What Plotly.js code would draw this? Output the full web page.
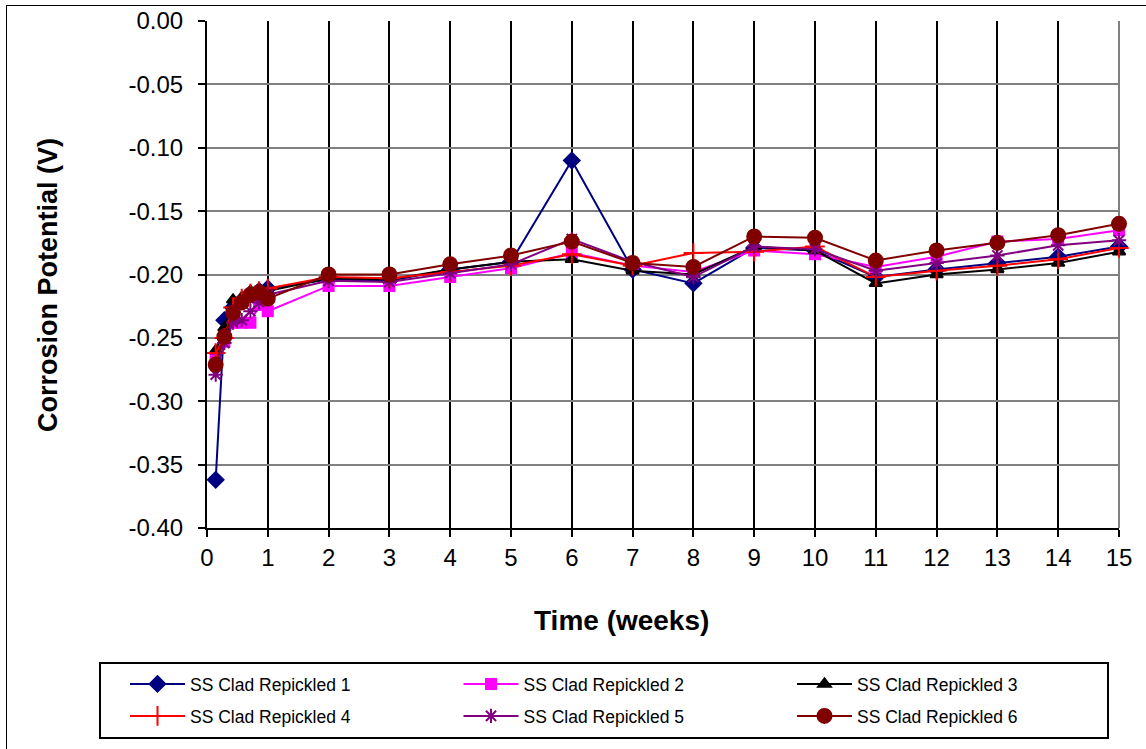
<!DOCTYPE html>
<html>
<head>
<meta charset="utf-8">
<script src="https://cdn.plot.ly/plotly-3.0.1.min.js"></script>
<style>
  html, body { margin: 0; padding: 0; background: #fff; }
  #wrap { position: relative; width: 1146px; height: 749px; overflow: hidden; }
  #chart { position: absolute; left: 0; top: 0; width: 1146px; height: 749px; }
  #frame { position: absolute; left: 6px; top: 5px; width: 1160px; height: 760px;
           border: 1px solid #000; pointer-events: none; }
</style>
</head>
<body>
<div id="wrap">
  <div id="chart"></div>
  <div id="frame"></div>
</div>
<script>
// Exposure time in weeks: daily readings in the first week, then weekly
const weeks = [1/7, 2/7, 3/7, 4/7, 5/7, 6/7, 1, 2, 3, 4, 5, 6, 7, 8, 9, 10, 11, 12, 13, 14, 15];

// Corrosion potential (V) for each repickled SS clad specimen
const repickled1 = [-0.362, -0.236, -0.226, -0.221, -0.216, -0.213, -0.211, -0.204, -0.205, -0.196, -0.190, -0.110, -0.196, -0.207, -0.179, -0.181, -0.202, -0.196, -0.191, -0.186, -0.178];
const repickled2 = [-0.266, -0.253, -0.238, -0.238, -0.238, -0.224, -0.229, -0.209, -0.209, -0.202, -0.195, -0.183, -0.193, -0.198, -0.181, -0.184, -0.194, -0.186, -0.174, -0.172, -0.165];
const repickled3 = [-0.260, -0.242, -0.220, -0.218, -0.213, -0.212, -0.213, -0.203, -0.204, -0.196, -0.190, -0.188, -0.197, -0.200, -0.178, -0.181, -0.207, -0.200, -0.196, -0.191, -0.182];
const repickled4 = [-0.262, -0.250, -0.226, -0.219, -0.215, -0.213, -0.211, -0.202, -0.203, -0.198, -0.193, -0.184, -0.193, -0.183, -0.182, -0.178, -0.202, -0.197, -0.193, -0.188, -0.179];
const repickled5 = [-0.279, -0.254, -0.238, -0.236, -0.229, -0.222, -0.216, -0.205, -0.206, -0.199, -0.192, -0.172, -0.190, -0.202, -0.178, -0.180, -0.197, -0.191, -0.185, -0.177, -0.173];
const repickled6 = [-0.271, -0.249, -0.230, -0.222, -0.216, -0.214, -0.219, -0.200, -0.200, -0.192, -0.185, -0.174, -0.191, -0.194, -0.170, -0.171, -0.189, -0.181, -0.175, -0.169, -0.160];

const seriesNames = ['SS Clad Repickled 1', 'SS Clad Repickled 2', 'SS Clad Repickled 3',
                     'SS Clad Repickled 4', 'SS Clad Repickled 5', 'SS Clad Repickled 6'];

const xTicks = [0, 1, 2, 3, 4, 5, 6, 7, 8, 9, 10, 11, 12, 13, 14, 15];
const yTicks = [0, -0.05, -0.10, -0.15, -0.20, -0.25, -0.30, -0.35, -0.40];

const styles = [
  { color: '#000080', symbol: 'diamond', size: 12 },
  { color: '#FF00FF', symbol: 'square', size: 10 },
  { color: '#000000', symbol: 'triangle-up', size: 11 },
  { color: '#FF0000', symbol: 'cross-thin-open', size: 14 },
  { color: '#800080', symbol: 'asterisk-open', size: 12 },
  { color: '#800000', symbol: 'circle', size: 14 }
];

const values = [repickled1, repickled2, repickled3, repickled4, repickled5, repickled6];

// one legend per entry so the 3 x 2 key grid sits at fixed spots
const legendIds = ['legend', 'legend2', 'legend3', 'legend4', 'legend5', 'legend6'];

const traces = values.map((v, i) => ({
  type: 'scatter',
  mode: 'lines+markers',
  name: seriesNames[i],
  legend: legendIds[i],
  x: weeks,
  y: v,
  line: { color: styles[i].color, width: 2 },
  marker: {
    symbol: styles[i].symbol,
    size: styles[i].size,
    color: styles[i].color,
    line: { color: styles[i].color, width: 2 }
  },
  cliponaxis: false
}));

const font = 'Arial, "Liberation Sans", sans-serif';

const W = 1146, H = 749;
const M = { l: 207, r: 27, t: 21, b: 221 };
const plotW = W - M.l - M.r, plotH = H - M.t - M.b;
// pixel position on the page -> paper fraction
const px = x => (x - M.l) / plotW;
const py = y => (H - M.b - y) / plotH;

// key grid: column left edges and row top edges, in page pixels
const keyCols = [125, 458.5, 792];
const keyRows = [666, 698];

function legendAt(i) {
  return {
    orientation: 'h',
    xref: 'container',
    yref: 'container',
    x: keyCols[i % 3] / W,
    y: 1 - keyRows[Math.floor(i / 3)] / H,
    xanchor: 'left',
    yanchor: 'top',
    borderwidth: 0,
    bgcolor: 'rgba(0,0,0,0)',
    font: { size: 17.5, family: font },
    itemwidth: 55,
    traceorder: 'normal'
  };
}

const layout = {
  width: W,
  height: H,
  margin: M,
  paper_bgcolor: '#ffffff',
  plot_bgcolor: '#ffffff',
  font: { family: font, color: '#000' },
  showlegend: true,
  xaxis: {
    range: [0, 15],
    tickvals: xTicks,
    ticktext: xTicks.map(String),
    ticks: 'outside',
    ticklen: 7,
    tickwidth: 2,
    tickcolor: '#000',
    showline: true,
    linecolor: '#000',
    linewidth: 2,
    showgrid: false,
    minor: {
      tickvals: xTicks.slice(1, -1),
      ticks: '',
      showgrid: true,
      gridcolor: '#000',
      gridwidth: 2
    },
    zeroline: false,
    tickfont: { size: 24, family: font }
  },
  yaxis: {
    range: [-0.40, 0],
    tickvals: yTicks,
    ticktext: yTicks.map(v => v.toFixed(2)),
    ticks: 'outside',
    ticklen: 7,
    tickwidth: 2,
    tickcolor: '#000',
    ticklabelstandoff: 10,
    showline: true,
    linecolor: '#000',
    linewidth: 2,
    showgrid: true,
    gridcolor: '#808080',
    gridwidth: 2,
    zeroline: false,
    tickfont: { size: 24, family: font }
  },
  annotations: [
    { text: '<b>Time (weeks)</b>', xref: 'paper', yref: 'paper',
      x: px(621), y: py(620), xanchor: 'center', yanchor: 'middle',
      showarrow: false, font: { size: 28, family: font } },
    { text: '<b>Corrosion Potential (V)</b>', xref: 'paper', yref: 'paper',
      x: px(48), y: py(285), xanchor: 'center', yanchor: 'middle', textangle: -90,
      showarrow: false, font: { size: 27, family: font } }
  ],
  shapes: [
    // right edge of the plot area
    { type: 'line', xref: 'paper', yref: 'paper', x0: 1, x1: 1, y0: 0, y1: 1,
      line: { color: '#808080', width: 2 }, layer: 'below' },
    // key box
    { type: 'rect', xref: 'paper', yref: 'paper',
      x0: px(100), x1: px(1108), y0: py(738), y1: py(663),
      line: { color: '#000', width: 2 }, fillcolor: 'rgba(0,0,0,0)', layer: 'below' }
  ]
};

legendIds.forEach((id, i) => { layout[id] = legendAt(i); });

Plotly.newPlot('chart', traces, layout, { displayModeBar: false, staticPlot: true });
</script>
</body>
</html>
